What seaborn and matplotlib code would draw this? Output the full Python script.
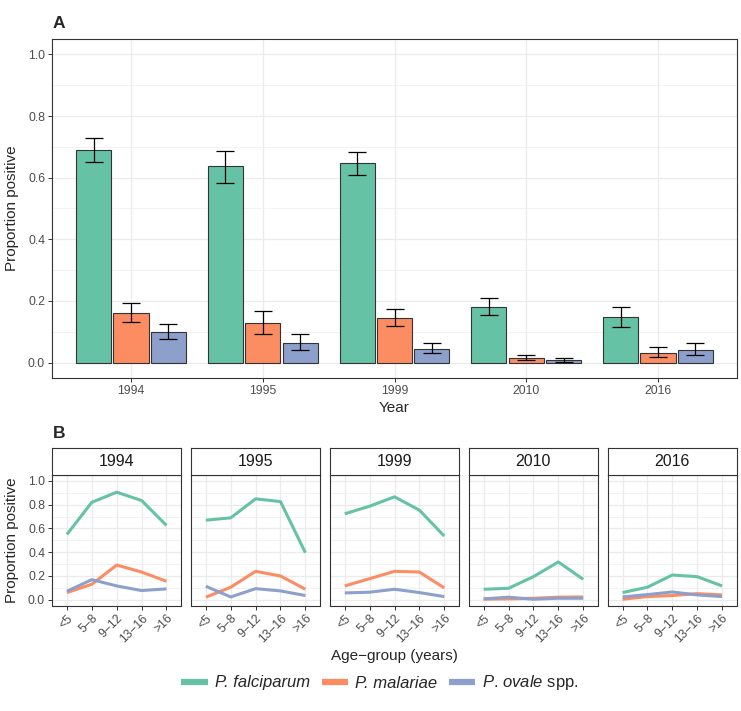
import numpy as np
import pandas as pd
import matplotlib
matplotlib.use('Agg')
import matplotlib.pyplot as plt
import seaborn as sns
from matplotlib.lines import Line2D
from matplotlib.ticker import MultipleLocator

# --- data -------------------------------------------------------------
years = ['1994', '1995', '1999', '2010', '2016']
species = ['P. falciparum', 'P. malariae', 'P. ovale spp.']
colors = ['#66C2A5', '#FC8D62', '#8DA0CB']

# panel A: overall proportion positive with CI
pf_prop = [0.691, 0.637, 0.648, 0.181, 0.147]
pf_low = [0.651, 0.584, 0.610, 0.153, 0.116]
pf_high = [0.730, 0.686, 0.683, 0.210, 0.181]

pm_prop = [0.162, 0.127, 0.145, 0.014, 0.032]
pm_low = [0.133, 0.094, 0.120, 0.0075, 0.018]
pm_high = [0.194, 0.166, 0.175, 0.025, 0.051]

po_prop = [0.099, 0.0625, 0.045, 0.0086, 0.042]
po_low = [0.075, 0.040, 0.030, 0.003, 0.026]
po_high = [0.126, 0.093, 0.064, 0.016, 0.064]

# panel B: proportion positive by age group, one row per year
age_groups = ['<5', '5\u22128', '9\u221212', '13\u221216', '>16']
pf_by_age = [
    [0.549, 0.820, 0.905, 0.835, 0.625],
    [0.669, 0.689, 0.849, 0.826, 0.395],
    [0.723, 0.787, 0.866, 0.754, 0.535],
    [0.087, 0.095, 0.193, 0.317, 0.171],
    [0.059, 0.104, 0.207, 0.193, 0.115],
]
pm_by_age = [
    [0.059, 0.129, 0.291, 0.232, 0.154],
    [0.020, 0.104, 0.238, 0.199, 0.087],
    [0.115, 0.176, 0.238, 0.232, 0.098],
    [0.003, 0.006, 0.011, 0.020, 0.022],
    [0.003, 0.025, 0.034, 0.050, 0.039],
]
po_by_age = [
    [0.070, 0.168, 0.115, 0.076, 0.090],
    [0.112, 0.022, 0.092, 0.073, 0.034],
    [0.056, 0.062, 0.087, 0.059, 0.025],
    [0.006, 0.020, 0.003, 0.011, 0.011],
    [0.022, 0.042, 0.064, 0.039, 0.025],
]

# build long tables
bar_rows = []
for sp, props in zip(species, [pf_prop, pm_prop, po_prop]):
    for yr, p in zip(years, props):
        bar_rows.append({'year': yr, 'species': sp, 'prop': p})
bar_df = pd.DataFrame(bar_rows)
lows = [pf_low, pm_low, po_low]
highs = [pf_high, pm_high, po_high]

line_rows = []
for sp, table in zip(species, [pf_by_age, pm_by_age, po_by_age]):
    for yr, vals in zip(years, table):
        for ag, v in zip(age_groups, vals):
            line_rows.append({'year': yr, 'species': sp, 'age': ag, 'prop': v})
line_df = pd.DataFrame(line_rows)

# --- style ------------------------------------------------------------
sns.set_theme(style='white')
plt.rcParams['font.family'] = ['Liberation Sans', 'DejaVu Sans']
plt.rcParams['mathtext.fontset'] = 'custom'
plt.rcParams['mathtext.it'] = 'Liberation Sans:italic'
plt.rcParams['mathtext.rm'] = 'Liberation Sans'

DARK = '#333333'
TICKC = '#4D4D4D'
GRID = '#EBEBEB'
W, H = 741, 711

fig = plt.figure(figsize=(W / 100, H / 100), dpi=100)


def px_axes(left, top, right, bottom):
    return fig.add_axes([left / W, 1 - bottom / H, (right - left) / W, (bottom - top) / H])


def style_panel(ax):
    ax.set_facecolor('white')
    for s in ax.spines.values():
        s.set_visible(True)
        s.set_color(DARK)
        s.set_linewidth(0.8)
    ax.yaxis.set_major_locator(MultipleLocator(0.2))
    ax.yaxis.set_minor_locator(MultipleLocator(0.1))
    ax.grid(which='major', color=GRID, lw=0.9)
    ax.grid(which='minor', axis='y', color=GRID, lw=0.45)
    ax.set_axisbelow(True)
    ax.tick_params(which='major', direction='out', length=2.75, width=0.7,
                   color=DARK, labelcolor=TICKC, labelsize=8.8, pad=2.2,
                   bottom=True, left=True)
    ax.tick_params(which='minor', length=0)
    ax.set_xlabel('')
    ax.set_ylabel('')


# --- panel A ----------------------------------------------------------
axA = px_axes(52, 39, 737, 378)
sns.barplot(data=bar_df, x='year', y='prop', hue='species', order=years,
            hue_order=species, palette=colors, saturation=1, width=0.85,
            gap=0.06, edgecolor=DARK, linewidth=0.8, errorbar=None,
            legend=False, ax=axA)
bar_groups = list(axA.containers)[:len(species)]
for i, cont in enumerate(bar_groups):
    for bar, lo, hi in zip(cont, lows[i], highs[i]):
        x = bar.get_x() + bar.get_width() / 2
        h = bar.get_height()
        axA.errorbar(x, h, yerr=[[h - lo], [hi - h]], color='black',
                     lw=0.9, capsize=6.5, capthick=0.9, zorder=5)
style_panel(axA)
axA.set_xlim(-0.6, 4.6)
axA.set_ylim(-0.05, 1.05)
axA.yaxis.set_major_formatter(matplotlib.ticker.FormatStrFormatter('%.1f'))

fig.text(53 / W, 1 - 24 / H, 'A', fontsize=12.5, fontweight='bold', ha='left', va='center')
fig.text(394.5 / W, 1 - 408 / H, 'Year', fontsize=11, ha='center', va='center')
fig.text(12 / W, 1 - 208.5 / H, 'Proportion positive', fontsize=11,
         rotation=90, ha='center', va='center')

# --- panel B ----------------------------------------------------------
fig.text(53 / W, 1 - 433 / H, 'B', fontsize=12.5, fontweight='bold', ha='left', va='center')
pw, gap = 129.4, 9.5
for j, yr in enumerate(years):
    left = 52 + j * (pw + gap)
    ax = px_axes(left, 475, left + pw, 605.5)
    sub = line_df[line_df['year'] == yr]
    sns.lineplot(data=sub, x='age', y='prop', hue='species', hue_order=species,
                 palette=colors, lw=2.2, sort=False, legend=False, ax=ax,
                 solid_capstyle='butt')
    style_panel(ax)
    ax.set_xlim(-0.6, 4.6)
    ax.set_ylim(-0.05, 1.05)
    ax.set_xticks(range(len(age_groups)))
    ax.set_xticklabels(age_groups, rotation=45, ha='right', va='top',
                       rotation_mode='anchor')
    ax.yaxis.set_major_formatter(matplotlib.ticker.FormatStrFormatter('%.1f'))
    if j > 0:
        ax.tick_params(axis='y', which='both', left=False, labelleft=False)

    strip = px_axes(left, 448, left + pw, 475)
    strip.set_xticks([])
    strip.set_yticks([])
    strip.set_facecolor('white')
    for s in strip.spines.values():
        s.set_visible(True)
        s.set_color(DARK)
        s.set_linewidth(0.8)
    strip.text(0.5, 0.5, yr, fontsize=11.5, color='#1A1A1A',
               ha='center', va='center', transform=strip.transAxes)

fig.text(394.5 / W, 1 - 656 / H, 'Age\u2212group (years)', fontsize=11,
         ha='center', va='center')
fig.text(12 / W, 1 - 540 / H, 'Proportion positive', fontsize=11,
         rotation=90, ha='center', va='center')

# --- legend -----------------------------------------------------------
handles = [Line2D([0], [0], color=c, lw=4.5, solid_capstyle='butt') for c in colors]
labels = ['P. falciparum', 'P. malariae', r'$\mathit{P}$. $\mathit{ovale}$ spp.']
leg = fig.legend(handles, labels, loc='center', bbox_to_anchor=(380 / W, 1 - 683 / H),
                 ncol=3, frameon=False, fontsize=12, handlelength=1.6,
                 handletextpad=0.4, columnspacing=0.7)
for t in leg.get_texts()[:2]:
    t.set_fontstyle('italic')

fig.savefig('out.png', dpi=100)
